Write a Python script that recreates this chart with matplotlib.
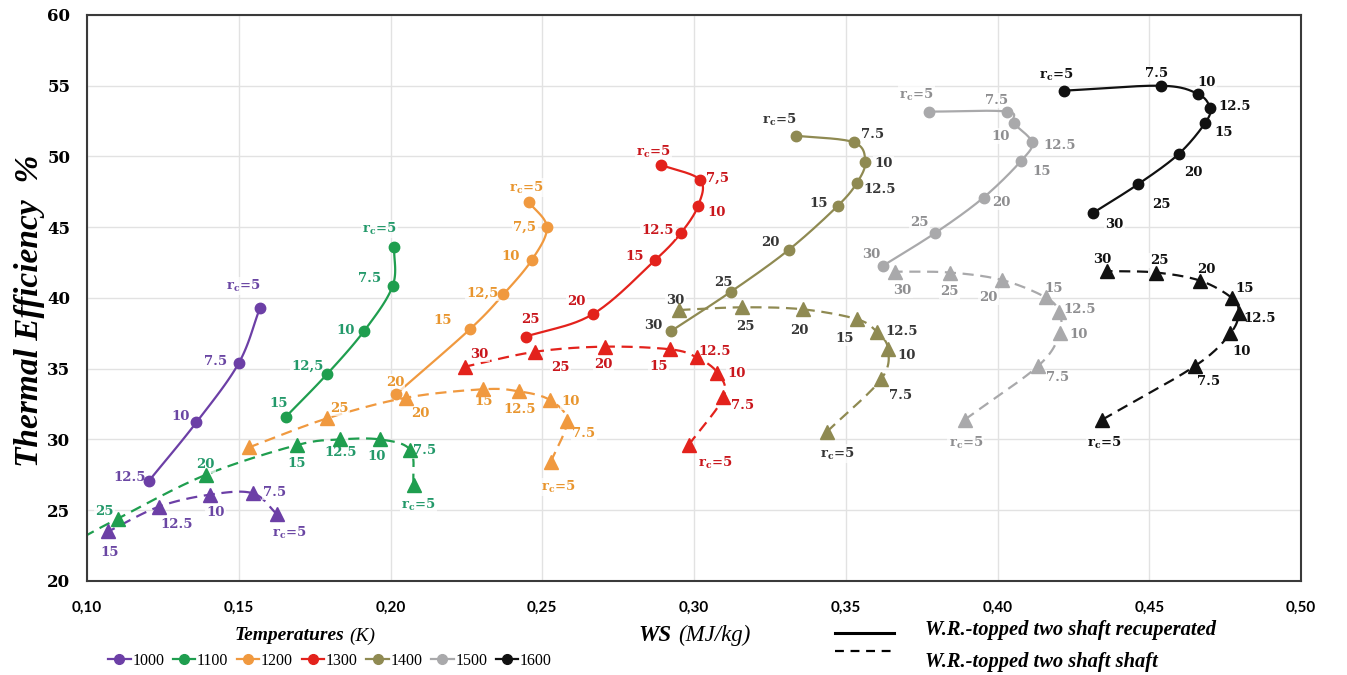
import numpy as np
import matplotlib
matplotlib.use('Agg')
import matplotlib.pyplot as plt
from matplotlib.lines import Line2D

plt.rcParams['mathtext.fontset'] = 'custom'
plt.rcParams['mathtext.rm'] = 'DejaVu Serif:bold'
plt.rcParams['mathtext.it'] = 'DejaVu Serif:bold'
plt.rcParams['mathtext.bf'] = 'DejaVu Serif:bold'

temps = [1000, 1100, 1200, 1300, 1400, 1500, 1600]
RC5 = 'r$_c$=5'

# --- W.R.-topped two shaft recuperated (solid) ---
lab_rec_1000 = [RC5, '7.5', '10', '12.5']
ws_rec_1000 = [0.157, 0.150, 0.136, 0.1205]
eff_rec_1000 = [39.3, 35.4, 31.2, 27.1]

lab_rec_1100 = [RC5, '7.5', '10', '12,5', '15']
ws_rec_1100 = [0.2012, 0.2007, 0.1914, 0.179, 0.1655]
eff_rec_1100 = [43.6, 40.85, 37.7, 34.6, 31.6]

lab_rec_1200 = [RC5, '7,5', '10', '12,5', '15', '20']
ws_rec_1200 = [0.2455, 0.2515, 0.2466, 0.2372, 0.2262, 0.2018]
eff_rec_1200 = [46.8, 45.0, 42.7, 40.26, 37.8, 33.2]

lab_rec_1300 = [RC5, '7,5', '10', '12.5', '15', '20', '25']
ws_rec_1300 = [0.2892, 0.302, 0.3013, 0.2957, 0.2873, 0.2666, 0.2446]
eff_rec_1300 = [49.4, 48.34, 46.5, 44.6, 42.7, 38.85, 37.27]

lab_rec_1400 = [RC5, '7.5', '10', '12.5', '15', '20', '25', '30']
ws_rec_1400 = [0.3336, 0.3526, 0.3564, 0.3537, 0.3473, 0.3312, 0.3122, 0.2925]
eff_rec_1400 = [51.47, 51.0, 49.63, 48.15, 46.5, 43.4, 40.45, 37.67]

lab_rec_1500 = [RC5, '7.5', '10', '12.5', '15', '20', '25', '30']
ws_rec_1500 = [0.3775, 0.4031, 0.4053, 0.4113, 0.4078, 0.3954, 0.3795, 0.3621]
eff_rec_1500 = [53.17, 53.17, 52.35, 51.0, 49.7, 47.1, 44.6, 42.26]

lab_rec_1600 = [RC5, '7.5', '10', '12.5', '15', '20', '25', '30']
ws_rec_1600 = [0.4218, 0.4539, 0.4660, 0.4699, 0.4685, 0.4597, 0.4463, 0.4313]
eff_rec_1600 = [54.65, 55.0, 54.42, 53.45, 52.4, 50.18, 48.04, 45.99]

# --- W.R.-topped two shaft shaft (dashed) ---
lab_sh_1000 = [RC5, '7.5', '10', '12.5', '15']
ws_sh_1000 = [0.1627, 0.1546, 0.1405, 0.1237, 0.107]
eff_sh_1000 = [24.7, 26.2, 26.1, 25.25, 23.5]

lab_sh_1100 = [RC5, '7.5', '10', '12.5', '15', '20', '25', None]
ws_sh_1100 = [0.2076, 0.2065, 0.1966, 0.1834, 0.1691, 0.1391, 0.1101, 0.097]
eff_sh_1100 = [26.8, 29.26, 30.0, 30.0, 29.6, 27.5, 24.4, 22.9]

lab_sh_1200 = [RC5, '7.5', '10', '12.5', '15', '20', '25', None]
ws_sh_1200 = [0.2528, 0.2581, 0.2524, 0.2424, 0.2306, 0.2051, 0.1792, 0.1535]
eff_sh_1200 = [28.4, 31.3, 32.8, 33.4, 33.55, 32.95, 31.5, 29.45]

lab_sh_1300 = [RC5, '7.5', '10', '12.5', '15', '20', '25', '30']
ws_sh_1300 = [0.2982, 0.3097, 0.3077, 0.3009, 0.2922, 0.2705, 0.2477, 0.2246]
eff_sh_1300 = [29.6, 33.0, 34.72, 35.8, 36.37, 36.56, 36.2, 35.15]

lab_sh_1400 = [RC5, '7.5', '10', '12.5', '15', '20', '25', '30']
ws_sh_1400 = [0.3438, 0.3616, 0.3639, 0.3603, 0.3537, 0.3358, 0.3158, 0.2952]
eff_sh_1400 = [30.55, 34.25, 36.4, 37.6, 38.5, 39.2, 39.34, 39.15]

lab_sh_1500 = [RC5, '7.5', '10', '12.5', '15', '20', '25', '30']
ws_sh_1500 = [0.3892, 0.4134, 0.4205, 0.4202, 0.4158, 0.4015, 0.3842, 0.3661]
eff_sh_1500 = [31.4, 35.2, 37.5, 39.03, 40.05, 41.27, 41.8, 41.86]

lab_sh_1600 = [RC5, '7.5', '10', '12.5', '15', '20', '25', '30']
ws_sh_1600 = [0.4345, 0.4651, 0.4767, 0.4794, 0.4772, 0.4668, 0.4522, 0.4362]
eff_sh_1600 = [31.4, 35.2, 37.5, 38.96, 40.0, 41.22, 41.8, 41.9]

# label offsets (pixels: right, down) - layout only
off_rec = {
    1000: [(-17, -22), (-23, -2), (-16, -6), (-20, -3)],
    1100: [(-15, -18), (-23, -7), (-19, 0), (-19, -8), (-7, -13)],
    1200: [(-2, -14), (-22, 0), (-21, -3), (-21, -1), (-27, -9), (-1, -12)],
    1300: [(-8, -13), (17, -2), (19, 6), (-23, -2), (-21, -3), (-16, -13), (4, -17)],
    1400: [(-17, -16), (19, -8), (18, 2), (23, 7), (-19, -3), (-18, -7), (-8, -9), (-18, -5)],
    1500: [(-13, -17), (-10, -11), (-13, 13), (28, 3), (20, 11), (18, 5), (-16, -10), (-11, -12)],
    1600: [(-7, -16), (-5, -12), (9, -11), (25, -1), (18, 10), (15, 19), (23, 20), (22, 11)],
}
off_sh = {
    1000: [(12, 18), (22, -1), (6, 18), (18, 18), (1, 21)],
    1100: [(5, 20), (14, 1), (-4, 17), (0, 13), (0, 18), (0, -10), (-13, -7), (0, 0)],
    1200: [(7, 25), (17, 12), (21, 2), (0, 18), (0, 12), (14, 16), (12, -10), (0, 0)],
    1300: [(27, 18), (19, 8), (19, 1), (18, -6), (-12, 17), (-1, 18), (25, 16), (14, -12)],
    1400: [(10, 22), (20, 16), (19, 7), (25, 0), (-12, 19), (-3, 21), (3, 19), (-4, -10)],
    1500: [(1, 23), (19, 12), (19, 1), (21, -2), (8, -9), (-14, 17), (0, 19), (8, 19)],
    1600: [(2, 23), (13, 16), (11, 18), (21, 6), (13, -9), (6, -11), (3, -12), (-5, -12)],
}

colors = {1000: '#6c3fa6', 1100: '#1f9e4f', 1200: '#f0993f', 1300: '#e3221c',
          1400: '#8f8a52', 1500: '#a9a9ab', 1600: '#111111'}
text_colors = {1000: '#6a46a3', 1100: '#23996a', 1200: '#e8952e', 1300: '#c9161c',
               1400: '#363636', 1500: '#8e8e90', 1600: '#111111'}

rec = {t: (globals()['ws_rec_%d' % t], globals()['eff_rec_%d' % t], globals()['lab_rec_%d' % t]) for t in temps}
sh = {t: (globals()['ws_sh_%d' % t], globals()['eff_sh_%d' % t], globals()['lab_sh_%d' % t]) for t in temps}

XMIN, XMAX, YMIN, YMAX = 0.10, 0.50, 20, 60


def smooth(x, y, n=24):
    # Catmull-Rom curve through the points, like Excel's smoothed lines
    x = np.asarray(x, float)
    y = np.asarray(y, float)
    sx, sy = 1214 / (XMAX - XMIN), 566 / (YMAX - YMIN)
    pts = np.column_stack([x * sx, y * sy])
    if len(pts) < 3:
        return x, y
    P = np.vstack([2 * pts[0] - pts[1], pts, 2 * pts[-1] - pts[-2]])
    t = np.linspace(0, 1, n, endpoint=False)[:, None]
    segs = []
    for i in range(1, len(P) - 2):
        p0, p1, p2, p3 = P[i - 1], P[i], P[i + 1], P[i + 2]
        segs.append(0.5 * (2 * p1 + (p2 - p0) * t + (2 * p0 - 5 * p1 + 4 * p2 - p3) * t ** 2
                           + (-p0 + 3 * p1 - 3 * p2 + p3) * t ** 3))
    segs.append(P[-2][None])
    out = np.vstack(segs)
    return out[:, 0] / sx, out[:, 1] / sy


fig = plt.figure(figsize=(13.47, 6.75), dpi=100)
ax = fig.add_axes([0.0646, 0.1393, 0.9013, 0.8385])

for t in temps:
    c = colors[t]
    for data, offs, dashed in ((rec[t], off_rec[t], False), (sh[t], off_sh[t], True)):
        ws, eff, labs = data
        sx, sy = smooth(ws, eff)
        line, = ax.plot(sx, sy, color=c, lw=1.6, zorder=2, solid_capstyle='round')
        if dashed:
            line.set_dashes((5, 3))
        ax.plot(ws, eff, ls='none', marker='^' if dashed else 'o',
                ms=10 if dashed else 7.5, color=c, mec=c, zorder=3)
        for xv, yv, lab, (dx, dy) in zip(ws, eff, labs, offs):
            if lab is None:
                continue
            ax.annotate(lab, (xv, yv), xytext=(dx * 0.72, -dy * 0.72), textcoords='offset points',
                        ha='center', va='center', fontsize=9.5, fontweight='bold',
                        family='DejaVu Serif', color=text_colors[t], zorder=2.5,
                        bbox=dict(boxstyle='square,pad=0.1', fc='white', ec='none', alpha=0.7))

ax.set_xlim(XMIN, XMAX)
ax.set_ylim(YMIN, YMAX)
xt = np.arange(0.10, 0.501, 0.05)
ax.set_xticks(xt)
ax.set_xticklabels([('%.2f' % v).replace('.', ',') for v in xt],
                   family='Lato', fontweight='bold', fontsize=11)
yt = np.arange(20, 61, 5)
ax.set_yticks(yt)
ax.set_yticklabels(['%d' % v for v in yt], family='DejaVu Serif', fontweight='bold', fontsize=12)
ax.tick_params(length=0)
ax.tick_params(axis='x', pad=14)
ax.tick_params(axis='y', pad=12)
ax.grid(True, color='#e2e2e2', lw=1)
ax.set_axisbelow(True)
for s in ax.spines.values():
    s.set_color('#3a3a3a')
    s.set_linewidth(1.5)

# axis titles
fig.text(0.022, 0.54, 'Thermal Efficiency  %', rotation=90, ha='center', va='center',
         family='Liberation Serif', fontweight='bold', style='italic', fontsize=24)
fig.text(0.4985, 0.059, 'WS', ha='right', va='center', family='Liberation Serif',
         fontweight='bold', style='italic', fontsize=16.5)
fig.text(0.5035, 0.059, '(MJ/kg)', ha='left', va='center', family='Liberation Serif',
         style='italic', fontsize=16.5)

# temperature legend
fig.text(0.2555, 0.058, 'Temperatures', ha='right', va='center', family='Liberation Serif',
         fontweight='bold', style='italic', fontsize=14)
fig.text(0.259, 0.058, '(K)', ha='left', va='center', family='Liberation Serif',
         style='italic', fontsize=14)
handles = [Line2D([], [], color=colors[t], marker='o', ms=7, lw=1.6) for t in temps]
fig.legend(handles, [str(t) for t in temps], loc='center', bbox_to_anchor=(0.245, 0.021),
           ncol=7, frameon=False, handlelength=1.4, handletextpad=0.1, columnspacing=0.55,
           prop={'family': 'Liberation Serif', 'size': 11.5}, borderpad=0)

# line style legend
fig.add_artist(Line2D([0.620, 0.664], [0.062, 0.062], color='black', lw=2.2, transform=fig.transFigure))
l2 = Line2D([0.620, 0.664], [0.035, 0.035], color='black', lw=1.6, transform=fig.transFigure)
l2.set_dashes((4, 3))
fig.add_artist(l2)
fig.text(0.687, 0.067, 'W.R.-topped two shaft recuperated', ha='left', va='center',
         family='Liberation Serif', fontweight='bold', style='italic', fontsize=14.8)
fig.text(0.687, 0.019, 'W.R.-topped two shaft shaft', ha='left', va='center',
         family='Liberation Serif', fontweight='bold', style='italic', fontsize=14.8)

plt.savefig('out.png', dpi=100)
